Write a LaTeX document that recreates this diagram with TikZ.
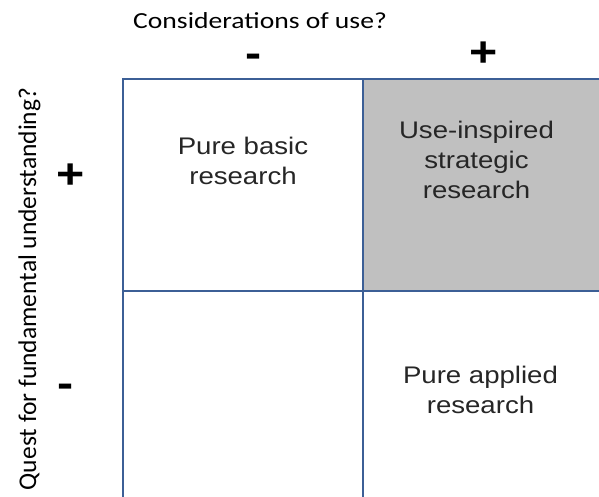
\documentclass[tikz,border=0pt]{standalone}
\usepackage{fontspec}
\setmainfont{Liberation Sans}
\newfontfamily\axisfont{Carlito}
\definecolor{gridblue}{RGB}{60,95,150}
\definecolor{cellgray}{RGB}{192,192,192}
\begin{document}
\begin{tikzpicture}[x=1pt,y=-1pt,
  gridline/.style={draw=gridblue,line width=2pt},
  % multi-line labels: the base anchor sits on the last line
  celltext/.style={align=center,anchor=base,xscale=1.15,inner sep=0pt,
    font=\fontsize{24}{30}\selectfont,text=black!85},
  axistitle/.style={inner sep=0pt,font=\axisfont\fontsize{23}{27}\selectfont},
  signmark/.style={anchor=base,inner sep=0pt,xscale=1.15,
    font=\bfseries\fontsize{42}{42}\selectfont}]
  \useasboundingbox[fill=white] (0,0) rectangle (599,497);
  \clip (0,0) rectangle (599,497);
  % shaded quadrant
  \fill[cellgray] (363,79) rectangle (599,291);
  % quadrant grid
  \draw[gridline] (123,497) -- (123,79) -- (599,79);
  \draw[gridline] (363,79) -- (363,497);
  \draw[gridline] (123,291) -- (599,291);
  % axis titles and signs
  \node[axistitle,anchor=base west,xscale=1.2] (xtitle) at (133,29) {Considerations of use?};
  \node[signmark] (xminus) at (254,68) {-};
  \node[signmark] (xplus) at (484,67) {+};
  \node[axistitle,rotate=90,anchor=base,font=\axisfont\fontsize{25.5}{30}\selectfont]
    (ytitle) at (36,289) {Quest for fundamental understanding?};
  \node[signmark] (yplus) at (70.5,189) {+};
  \node[signmark] (yminus) at (66,397) {-};
  % quadrant labels
  \node[celltext] (pbasic) at (243,185) {Pure basic\\research};
  \node[celltext] (useinsp) at (476.5,198) {Use-inspired\\strategic\\research};
  \node[celltext] (papplied) at (480.5,413) {Pure applied\\research};
\end{tikzpicture}
\end{document}
